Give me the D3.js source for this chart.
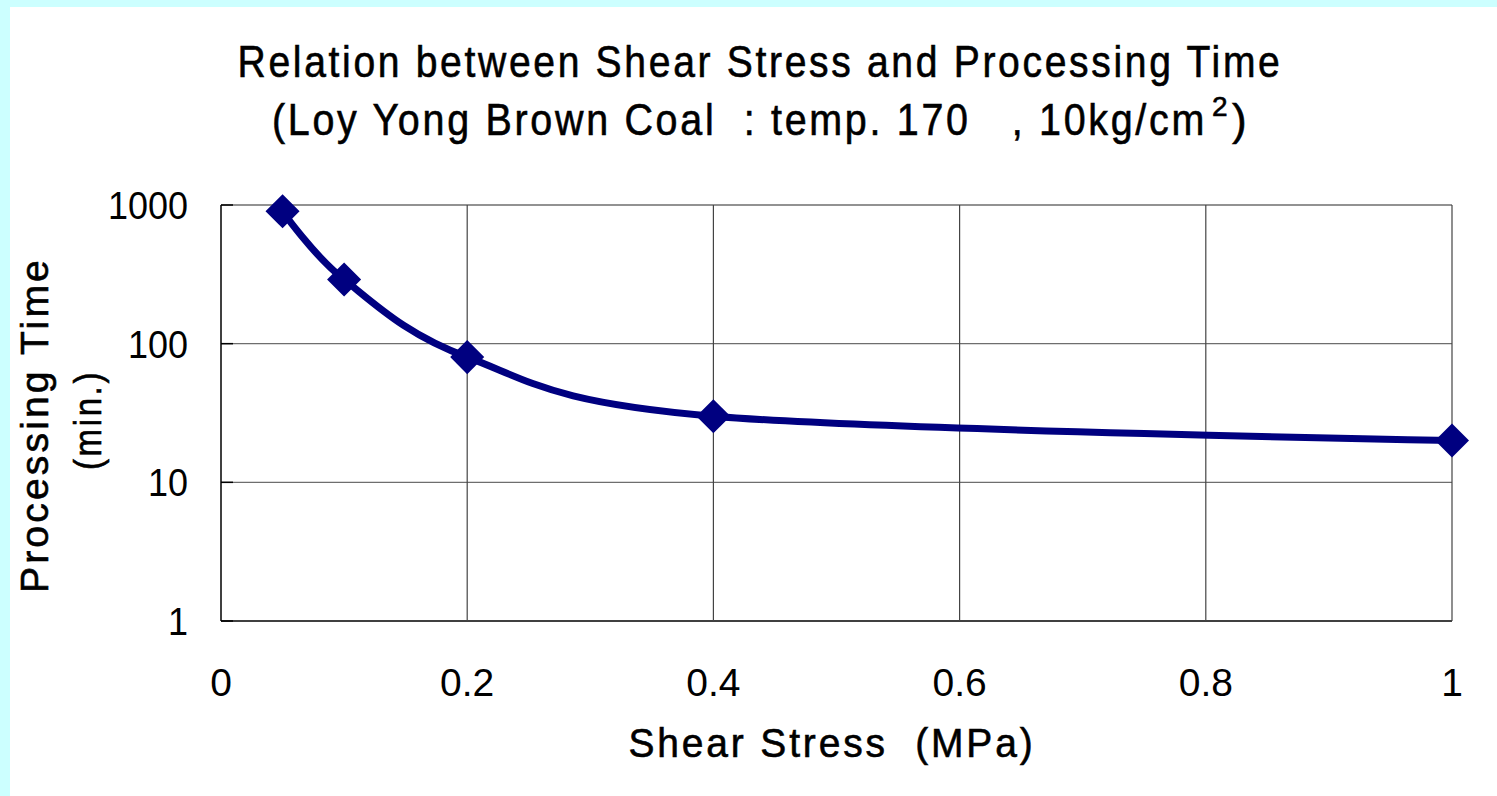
<!DOCTYPE html>
<html>
<head>
<meta charset="utf-8">
<script src="https://cdn.jsdelivr.net/npm/d3@7"></script>
<style>
  html, body { margin: 0; padding: 0; background: #ccffff; }
  svg { display: block; }
  text { font-family: "Liberation Sans", Arial, sans-serif; fill: #000; white-space: pre; }
  .ttl { stroke: #000; stroke-width: 0.6px; }
</style>
</head>
<body>
<svg id="chart"></svg>
<script>
// data
const shearStress = [0.05, 0.1, 0.2, 0.4, 1.0]
const processingTime = [900, 290, 80, 30, 20]
const xTicks = [0, 0.2, 0.4, 0.6, 0.8, 1]
const yTicks = [1, 10, 100, 1000]
const titleLines = ["Relation between Shear Stress and Processing Time", "(Loy Yong Brown Coal  : temp. 170   , 10kg/cm"]

const W = 1497, H = 796
const margin = { top: 205, right: 45, bottom: 175, left: 221 }

const svg = d3.select("#chart").attr("width", W).attr("height", H)

// light cyan frame on top/left, white page
svg.append("rect").attr("x", 10).attr("y", 7).attr("width", W - 10).attr("height", H - 7).attr("fill", "#fff")

const x = d3.scaleLinear().domain([0, 1]).range([margin.left, W - margin.right])
const y = d3.scaleLog().domain([1, 1000]).range([H - margin.bottom, margin.top])

// grid
const grid = svg.append("g")
grid.selectAll("line.h").data(yTicks).join("line")
    .attr("x1", x(0)).attr("x2", x(1))
    .attr("y1", d => y(d)).attr("y2", d => y(d))
    .attr("stroke", d => d === 1 ? "#000" : "#6e6e6e")
    .attr("stroke-width", d => d === 1 ? 1.5 : 1.3)
grid.selectAll("line.v").data(xTicks).join("line")
    .attr("x1", d => x(d)).attr("x2", d => x(d))
    .attr("y1", y(1000)).attr("y2", y(1))
    .attr("stroke", d => d === 0 ? "#000" : "#444")
    .attr("stroke-width", d => d === 0 ? 1.5 : 1.2)

// small inside ticks on y axis
grid.selectAll("line.t").data(yTicks).join("line")
    .attr("x1", x(0)).attr("x2", x(0) + 12)
    .attr("y1", d => y(d)).attr("y2", d => y(d))
    .attr("stroke", "#000").attr("stroke-width", 1.5)

// tick labels
svg.append("g").selectAll("text").data(yTicks).join("text")
    .attr("x", 188).attr("y", d => y(d) + 14)
    .attr("text-anchor", "end").attr("font-size", 38)
    .attr("textLength", d => String(d).length * 20).attr("lengthAdjust", "spacingAndGlyphs")
    .text(d => d)
svg.append("g").selectAll("text").data(xTicks).join("text")
    .attr("x", d => x(d)).attr("y", 696)
    .attr("text-anchor", "middle").attr("font-size", 39)
    .text(d => d)

// titles
svg.append("text").attr("class", "ttl").attr("x", 760).attr("y", 77)
    .attr("text-anchor", "middle").attr("font-size", 44).attr("letter-spacing", 3)
    .attr("textLength", 1045).attr("lengthAdjust", "spacingAndGlyphs")
    .text(titleLines[0])
svg.append("text").attr("class", "ttl").attr("x", 272).attr("y", 135)
    .attr("font-size", 44).attr("letter-spacing", 3)
    .attr("textLength", 935).attr("lengthAdjust", "spacingAndGlyphs")
    .text(titleLines[1])
svg.append("text").attr("class", "ttl").attr("x", 1212).attr("y", 116)
    .attr("font-size", 28).text("2")
svg.append("text").attr("class", "ttl").attr("x", 1232).attr("y", 135)
    .attr("font-size", 44).text(")")

svg.append("text").attr("class", "ttl").attr("x", 832).attr("y", 757)
    .attr("text-anchor", "middle").attr("font-size", 41).attr("letter-spacing", 3)
    .attr("textLength", 407).attr("lengthAdjust", "spacingAndGlyphs")
    .text("Shear Stress  (MPa)")

svg.append("text").attr("class", "ttl").attr("transform", "translate(48,425) rotate(-90)")
    .attr("text-anchor", "middle").attr("font-size", 38).attr("letter-spacing", 3)
    .attr("textLength", 336).attr("lengthAdjust", "spacingAndGlyphs")
    .text("Processing Time")
svg.append("text").attr("class", "ttl").attr("transform", "translate(101,420) rotate(-90)")
    .attr("text-anchor", "middle").attr("font-size", 38).attr("letter-spacing", 3)
    .attr("textLength", 100).attr("lengthAdjust", "spacingAndGlyphs")
    .text("(min.)")

// smoothed series line
const pts = shearStress.map((s, i) => [s, processingTime[i]])
const line = d3.line().x(d => x(d[0])).y(d => y(d[1])).curve(d3.curveCatmullRom.alpha(0))
svg.append("path").datum(pts)
    .attr("d", line)
    .attr("fill", "none").attr("stroke", "#000080")
    .attr("stroke-width", 7).attr("stroke-linejoin", "round")

// diamond markers
svg.append("g").selectAll("path").data(pts).join("path")
    .attr("transform", d => `translate(${x(d[0])},${y(d[1])}) rotate(45)`)
    .attr("d", d3.symbol().type(d3.symbolSquare).size(580))
    .attr("fill", "#000080")
</script>
</body>
</html>
